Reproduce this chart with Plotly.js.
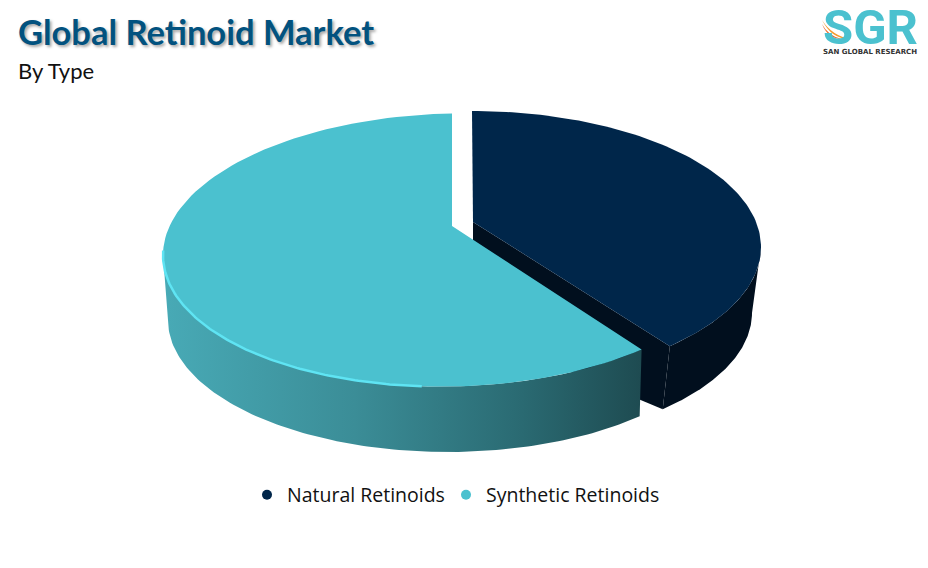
<!DOCTYPE html>
<html>
<head>
<meta charset="utf-8">
<script src="https://cdn.plot.ly/plotly-3.0.1.min.js"></script>
<style>html,body{margin:0;padding:0;background:#fff}#c{width:928px;height:568px}</style>
</head>
<body>
<div id="c"></div>
<script>
var categories = ["Natural Retinoids", "Synthetic Retinoids"];
var shares = [38, 62];
var sliceColors = ["#00264a", "#4bc1cf"];
var titleText = "Global Retinoid Market";
var subtitleText = "By Type";
var logoText = "SGR";
var logoSub = "SAN GLOBAL RESEARCH";

var total = shares[0] + shares[1];
var split = shares[0] / total * 360;
var tealSplit = split + 2.2; // the exploded slice sits further left, so its edge meets the rim slightly later

function arc(e, from, to) {
  var n = 120, xs = [], ys = [];
  for (var i = 0; i <= n; i++) {
    var t = (from + (to - from) * i / n) * Math.PI / 180;
    xs.push(e.cx + e.a * Math.sin(t));
    ys.push(e.cy - e.b * Math.cos(t) + (e.k || 0) * e.a * Math.sin(t));
  }
  return {x: xs, y: ys};
}
function poly(parts) {
  var x = [], y = [];
  parts.forEach(function (p) { x = x.concat(p.x); y = y.concat(p.y); });
  return {x: x, y: y};
}
function rev(p) { return {x: p.x.slice().reverse(), y: p.y.slice().reverse()}; }
function pt(x, y) { return {x: [x], y: [y]}; }
function area(p, color, extra) {
  var tr = {x: p.x, y: p.y, mode: "lines", fill: "toself", fillcolor: color,
    line: {width: 0, color: color}, hoverinfo: "skip", showlegend: false};
  for (var k in (extra || {})) tr[k] = extra[k];
  return tr;
}

var navyTop = {cx: 472, cy: 247, a: 289, b: 136};
var navyBase = {cx: 469, cy: 313, a: 283, b: 132};
var tealTop = {cx: 452, cy: 250, a: 289, b: 136.5, k: -0.018};
var tealBase = {cx: 448, cy: 320, a: 280, b: 132};
var navyApex = [473, 222], tealApex = [452, 226];

var navyTopArc = arc(navyTop, 0, split);
var navyWallTop = arc(navyTop, 90, split);
var navyWallBase = arc(navyBase, 90, split);
var tealTopArc = arc(tealTop, tealSplit, 360);
var tealWallTop = arc(tealTop, tealSplit, 270);
var tealWallBase = arc(tealBase, split, 270);
var rim = arc(tealTop, 186, 272);
var nEnd = navyTopArc.x.length - 1;

var traces = [
  area(poly([navyWallTop, rev(navyWallBase)]), "#010f1e"),
  area(poly([pt(navyApex[0], navyApex[1]), pt(navyTopArc.x[nEnd], navyTopArc.y[nEnd]),
             pt(navyWallBase.x[nEnd], navyWallBase.y[nEnd]), pt(navyApex[0], 330)]), "#010f1e"),
  area(poly([pt(navyApex[0], navyApex[1]), navyTopArc]), sliceColors[0]),
  area(poly([tealWallTop, rev(tealWallBase)]), "#3a8a93", {
    fillgradient: {type: "horizontal", colorscale: [[0, "#48aab6"], [0.4, "#3b8d97"], [0.75, "#2a6a72"], [1, "#1e4b51"]]}
  }),
  area(poly([pt(tealApex[0], tealApex[1]), tealTopArc]), sliceColors[1]),
  {x: rim.x, y: rim.y, mode: "lines",
   line: {color: "#5fe4f3", width: 2.5}, hoverinfo: "skip", showlegend: false},
  {x: [null], y: [null], name: categories[0], mode: "markers", marker: {color: sliceColors[0], size: 10}, legend: "legend", showlegend: true},
  {x: [null], y: [null], name: categories[1], mode: "markers", marker: {color: sliceColors[1], size: 10}, legend: "legend2", showlegend: true}
];

var legendFont = {family: "Open Sans", size: 19.5, color: "#111"};

var layout = {
  width: 928, height: 568,
  margin: {l: 0, r: 0, t: 0, b: 0},
  paper_bgcolor: "#fff", plot_bgcolor: "#fff",
  hovermode: false,
  xaxis: {range: [0, 928], visible: false, fixedrange: true},
  yaxis: {range: [568, 0], visible: false, fixedrange: true},
  title: {text: "<b>" + titleText + "</b>", x: 18 / 928, xanchor: "left", xref: "paper",
          y: 1 - 33 / 568, yanchor: "middle", yref: "paper",
          font: {family: "Lato", size: 34.5, color: "#02527f", shadow: "2px 2px 3px rgba(0,0,0,0.35)"}},
  legend: {orientation: "h", x: 247 / 928, xanchor: "left", y: 1 - 495 / 568, yanchor: "middle",
           font: legendFont, bgcolor: "rgba(0,0,0,0)", itemclick: false, itemdoubleclick: false},
  legend2: {orientation: "h", x: 446 / 928, xanchor: "left", y: 1 - 495 / 568, yanchor: "middle",
           font: legendFont, bgcolor: "rgba(0,0,0,0)", itemclick: false, itemdoubleclick: false},
  annotations: [
    {text: subtitleText, xref: "x", yref: "y", x: 16, y: 70, xanchor: "left", yanchor: "middle", showarrow: false,
     font: {family: "Lato", size: 22, color: "#111"}},
    {text: "<b>" + logoText + "</b>", xref: "x", yref: "y", x: 870, y: 27, xanchor: "center", yanchor: "middle", showarrow: false,
     height: 36, borderpad: 0,
     font: {family: "Roboto", size: 49, color: "#4bc1cf"}},
    {text: "<b>" + logoSub + "</b>", xref: "x", yref: "y", x: 870, y: 52, xanchor: "center", yanchor: "middle", showarrow: false,
     font: {family: "DejaVu Sans", size: 7, color: "#333"}}
  ],
  shapes: [
    {type: "path", xref: "x", yref: "y", path: "M 822 20 Q 832 36 851 39 Q 832 40 822 20 Z", fillcolor: "#f39a2e", line: {width: 0}},
    {type: "path", xref: "x", yref: "y", path: "M 822 24 Q 828 36 842 39 Q 828 39 822 24 Z", fillcolor: "#ef6a2a", line: {width: 0}}
  ]
};

Plotly.newPlot("c", traces, layout, {displayModeBar: false});
</script>
</body>
</html>
